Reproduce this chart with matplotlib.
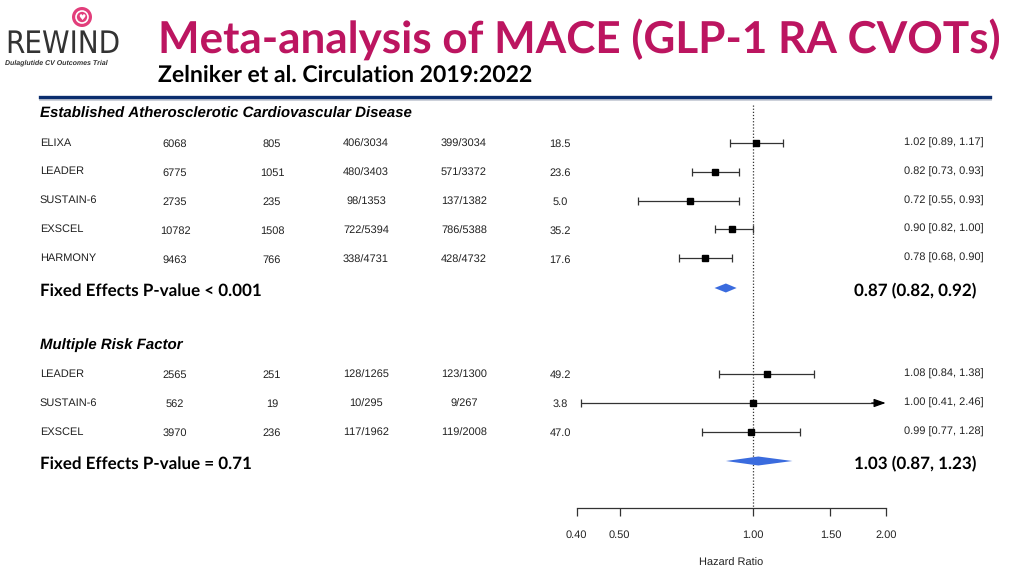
import matplotlib
matplotlib.use("Agg")
import matplotlib.pyplot as plt
from matplotlib.patches import Polygon, Circle
from matplotlib.lines import Line2D
import matplotlib.transforms as mtransforms

plt.rcParams["text.hinting"] = "no_hinting"
plt.rcParams["text.hinting_factor"] = 1

# ---------------- data ----------------
studies_ascvd = ["ELIXA", "LEADER", "SUSTAIN-6", "EXSCEL", "HARMONY"]
n_total_ascvd = [6068, 6775, 2735, 10782, 9463]
events_ascvd = [805, 1051, 235, 1508, 766]
glp1_ascvd = ["406/3034", "480/3403", "98/1353", "722/5394", "338/4731"]
placebo_ascvd = ["399/3034", "571/3372", "137/1382", "786/5388", "428/4732"]
weight_ascvd = [18.5, 23.6, 5.0, 35.2, 17.6]
hr_ascvd = [1.02, 0.82, 0.72, 0.90, 0.78]
lo_ascvd = [0.89, 0.73, 0.55, 0.82, 0.68]
hi_ascvd = [1.17, 0.93, 0.93, 1.00, 0.90]
pooled_ascvd = [0.87, 0.82, 0.92]
pval_ascvd = "Fixed Effects P-value < 0.001"

studies_mrf = ["LEADER", "SUSTAIN-6", "EXSCEL"]
n_total_mrf = [2565, 562, 3970]
events_mrf = [251, 19, 236]
glp1_mrf = ["128/1265", "10/295", "117/1962"]
placebo_mrf = ["123/1300", "9/267", "119/2008"]
weight_mrf = [49.2, 3.8, 47.0]
hr_mrf = [1.08, 1.00, 0.99]
lo_mrf = [0.84, 0.41, 0.77]
hi_mrf = [1.38, 2.46, 1.28]
pooled_mrf = [1.03, 0.87, 1.23]
pval_mrf = "Fixed Effects P-value = 0.71"

xticks = [0.40, 0.50, 1.00, 1.50, 2.00]
xticklabels = ["0.40", "0.50", "1.00", "1.50", "2.00"]

# ---------------- layout ----------------
W, H = 1024, 576
fig = plt.figure(figsize=(W / 100, H / 100), dpi=100)
fig.patch.set_facecolor("white")

ax_left, ax_right = 576.7, 885.7
ax_top, ax_bot = 100, 508
ax = fig.add_axes([ax_left / W, (H - ax_bot) / H,
                   (ax_right - ax_left) / W, (ax_bot - ax_top) / H])
ax.set_xscale("log")
ax.set_xlim(xticks[0], xticks[-1])
ax.set_ylim(ax_bot, ax_top)
ax.patch.set_alpha(0)
for s in ["top", "right", "left"]:
    ax.spines[s].set_visible(False)
ax.spines["bottom"].set_color("#333333")
ax.spines["bottom"].set_linewidth(0.9)
ax.set_yticks([])
ax.set_xticks(xticks)
ax.set_xticklabels(xticklabels, fontfamily="Liberation Sans", fontsize=8, color="#222222")
ax.xaxis.set_minor_locator(matplotlib.ticker.NullLocator())
ax.tick_params(axis="x", direction="out", length=5.8, width=0.9, color="#333333", pad=10)
ax.set_xlabel("Hazard Ratio", fontfamily="Liberation Sans", fontsize=8,
              color="#222222", labelpad=13)

# row positions (pixel-like units on the y axis)
rows_ascvd = [143, 171.5, 200.5, 229.3, 258.3]
pool_y_ascvd = 291
head_y_ascvd = 114
rows_mrf = [374, 403, 432]
pool_y_mrf = 464
head_y_mrf = 345

blend = mtransforms.blended_transform_factory(fig.transFigure, ax.transData)
col_x = [40, 175, 272, 366, 464, 560]
right_x = 984
tfont = dict(fontfamily="Liberation Sans", fontsize=8, color="#222222",
             transform=blend, va="center", clip_on=False)
bfont = dict(fontfamily="Lato", fontweight="bold", fontsize=12.2, color="black",
             transform=blend, va="center", clip_on=False)
hfont = dict(fontfamily="Liberation Sans", fontweight="bold", fontstyle="italic",
             fontsize=10.5, color="black", transform=blend, va="center", clip_on=False)

ax.vlines(1.0, 105, ax_bot, colors="#333333", linestyles=(0, (1, 1.5)), linewidth=0.9)


def draw_group(rows, names, ntot, ev, g, p, w, hr, lo, hi, pooled, pval, pool_y):
    for i, y in enumerate(rows):
        ax.text(col_x[0] / W, y, names[i], ha="left", **tfont)
        ax.text(col_x[1] / W, y + 1.5, str(ntot[i]), ha="center", **tfont)
        ax.text(col_x[2] / W, y + 1.5, str(ev[i]), ha="center", **tfont)
        ax.text(col_x[3] / W, y + 1.5, g[i], ha="center", **tfont)
        ax.text(col_x[4] / W, y + 1.5, p[i], ha="center", **tfont)
        ax.text(col_x[5] / W, y + 1.5, f"{w[i]:.1f}", ha="center", **tfont)
        ax.text(right_x / W, y, f"{hr[i]:.2f} [{lo[i]:.2f}, {hi[i]:.2f}]", ha="right", **tfont)
        xmax = xticks[-1]
        if hi[i] > xmax:
            ax.hlines(y, lo[i], xmax * 0.97, colors="#333333", linewidth=0.9)
            ax.annotate("", xy=(xmax, y), xytext=(xmax * 0.93, y),
                        arrowprops=dict(arrowstyle="-|>,head_length=0.7,head_width=0.25",
                                        color="black", lw=0.9, shrinkA=0, shrinkB=0),
                        annotation_clip=False)
            ax.vlines([lo[i]], y - 4, y + 4, colors="#333333", linewidth=0.9)
        else:
            ax.hlines(y, lo[i], hi[i], colors="#333333", linewidth=0.9)
            ax.vlines([lo[i], hi[i]], y - 4, y + 4, colors="#333333", linewidth=0.9)
        ax.plot(hr[i], y, marker="s", color="black", markersize=4.6, zorder=5)
    est, plo, phi = pooled
    dy = pool_y - 3
    ax.add_patch(Polygon([(plo, dy), (est, dy - 4.5), (phi, dy), (est, dy + 4.5)],
                         closed=True, facecolor="#3A6BDE", edgecolor="none", zorder=4))
    ax.text(col_x[0] / W, pool_y, pval, ha="left", **bfont)
    ax.text(976 / W, pool_y, f"{est:.2f} ({plo:.2f}, {phi:.2f})", ha="right", **bfont)


ax.text(col_x[0] / W, head_y_ascvd, "Established Atherosclerotic Cardiovascular Disease",
        ha="left", **hfont)
draw_group(rows_ascvd, studies_ascvd, n_total_ascvd, events_ascvd, glp1_ascvd, placebo_ascvd,
           weight_ascvd, hr_ascvd, lo_ascvd, hi_ascvd, pooled_ascvd, pval_ascvd, pool_y_ascvd)
ax.text(col_x[0] / W, head_y_mrf, "Multiple Risk Factor", ha="left", **hfont)
draw_group(rows_mrf, studies_mrf, n_total_mrf, events_mrf, glp1_mrf, placebo_mrf,
           weight_mrf, hr_mrf, lo_mrf, hi_mrf, pooled_mrf, pval_mrf, pool_y_mrf)

# ---------------- header ----------------
fig.text(158 / W, 1 - 39 / H, "Meta-analysis of MACE (GLP-1 RA CVOTs)",
         fontfamily="Lato", fontweight="bold", fontsize=32, color="#BC1560",
         ha="left", va="center")
fig.text(158 / W, 1 - 75 / H, "Zelniker et al. Circulation 2019:2022",
         fontfamily="Lato", fontweight="bold", fontsize=16.6, color="black",
         ha="left", va="center")
fig.add_artist(Line2D([40 / W, 990 / W], [1 - 99 / H, 1 - 99 / H], color="#C8CCD6",
                      linewidth=2.0, transform=fig.transFigure))
fig.add_artist(Line2D([40 / W, 990 / W], [1 - 97 / H, 1 - 97 / H], color="#0B2D6E",
                      linewidth=2.4, transform=fig.transFigure))

# logo
fig.add_artist(Circle((82 / 100, (H - 17) / 100), 0.1, transform=fig.dpi_scale_trans,
                      facecolor="#E23E7B", edgecolor="none"))
fig.add_artist(Circle((82 / 100, (H - 17) / 100), 0.06, transform=fig.dpi_scale_trans,
                      facecolor="none", edgecolor="white", linewidth=1.2))
fig.text(82 / W, 1 - 17.5 / H, "\u2665", fontsize=6, color="white", ha="center", va="center",
         fontfamily="DejaVu Sans")
fig.text(5 / W, 1 - 44 / H, "REWIND", fontfamily="DejaVu Sans", fontweight="light",
         fontsize=22, color="#333333", ha="left", va="center", fontstretch="condensed")
fig.text(5 / W, 1 - 63 / H, "Dulaglutide CV Outcomes Trial", fontfamily="Liberation Sans",
         fontweight="bold", fontstyle="italic", fontsize=5.2, color="#333333",
         ha="left", va="center")

fig.savefig("out.png", dpi=100, facecolor="white")
